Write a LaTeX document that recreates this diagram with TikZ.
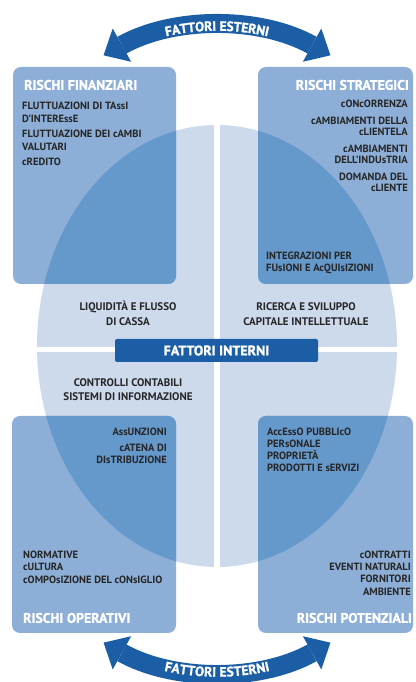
\documentclass[tikz,border=0pt]{standalone}
\usepackage{fontspec}
\setmainfont{PT Sans}[BoldFont={PT Sans Bold}]
\newfontfamily\heavyfont{PT Sans Bold}[FakeBold=1.3]
\usetikzlibrary{arrows.meta,decorations.text}
\definecolor{ellc}{HTML}{CDDAEC}
\definecolor{boxc}{HTML}{8DAFD7}
\definecolor{ovc}{HTML}{6598CB}
\definecolor{darkb}{HTML}{1B5EA5}
\definecolor{txtc}{HTML}{262626}
\tikzset{
  item/.style={inner sep=0pt, text height=7.3pt, text depth=0pt, font=\bfseries\fontsize{10.5}{10.5}\selectfont, text=txtc},
  mid/.style={inner sep=0pt, text height=7.7pt, text depth=0pt, font=\bfseries\fontsize{11}{11}\selectfont, text=txtc},
  ttl/.style={inner sep=0pt, text height=9.6pt, text depth=0pt, font=\heavyfont\fontsize{13.8}{13.8}\selectfont, text=white},
  rbox/.style={rounded corners=8pt},
  band/.style={darkb, line width=19pt, {Triangle[width=38pt,length=21pt,line width=0pt]}-{Triangle[width=38pt,length=21pt,line width=0pt]}},
  bandtext/.style={decorate, decoration={text along path, text={|\heavyfont\fontsize{13.5}{13.5}\selectfont\color{white}|FATTORI ESTERNI}, text align=center, raise=-4.7pt}}
}
\begin{document}
\begin{tikzpicture}[x=1pt,y=1pt]
\useasboundingbox (0,0) rectangle (415,682);
% ellipse
\fill[ellc] (217,336) ellipse [x radius=180, y radius=221];
% boxes
\fill[boxc, rbox] (13,398) rectangle (176,615);
\fill[boxc, rbox] (258,398) rectangle (413,615);
\fill[boxc, rbox] (12,49) rectangle (176,266);
\fill[boxc, rbox] (258,49) rectangle (413,266);
\begin{scope}
  \clip (217,336) ellipse [x radius=180, y radius=221];
  \fill[ovc, rbox] (13,398) rectangle (176,615);
  \fill[ovc, rbox] (258,398) rectangle (413,615);
  \fill[ovc, rbox] (12,49) rectangle (176,266);
  \fill[ovc, rbox] (258,49) rectangle (413,266);
  \fill[white] (213.5,0) rectangle (220,682);
  \fill[white] (0,330) rectangle (415,334.5);
\end{scope}
% central bar
\node (fi) [fill=darkb, minimum width=203pt, minimum height=23pt, rounded corners=2pt, inner sep=0pt, text=white, font=\heavyfont\fontsize{14}{14}\selectfont] at (216.5,331.5) {FATTORI INTERNI};
% arrows
\coordinate (tc) at (217,422);
\coordinate (bc) at (217,244);
\draw[band] ([shift={(119:234)}]tc) arc[start angle=119, end angle=61, radius=234];
\path[bandtext] ([shift={(116:234)}]tc) arc[start angle=116, end angle=64, radius=234];
\draw[band] ([shift={(241:234)}]bc) arc[start angle=241, end angle=299, radius=234];
\path[bandtext] ([shift={(244:234)}]bc) arc[start angle=244, end angle=296, radius=234];
% top-left box
\node (t1) [ttl, anchor=west] at (24,682-85) {RISCHI FINANZIARI};
\node (a1) [item, anchor=west] at (22,682-106) {FLUTTUAZIONI DI TAssI};
\node (a2) [item, anchor=west] at (22,682-119) {D'INTEREssE};
\node (a3) [item, anchor=west] at (22,682-134) {FLUTTUAZIONE DEI cAMBI};
\node (a4) [item, anchor=west] at (22,682-147) {VALUTARI};
\node (a5) [item, anchor=west] at (22,682-162) {cREDITO};
% top-right box
\node (t2) [ttl, anchor=east] at (409,682-85) {RISCHI STRATEGICI};
\node (b1) [item, anchor=east] at (408,682-104) {cONcORRENZA};
\node (b2) [item, anchor=east] at (408,682-121) {cAMBIAMENTI DELLA};
\node (b3) [item, anchor=east] at (408,682-132) {cLIENTELA};
\node (b4) [item, anchor=east] at (408,682-149) {cAMBIAMENTI};
\node (b5) [item, anchor=east] at (408,682-160) {DELL'INDUsTRIA};
\node (b6) [item, anchor=east] at (408,682-177) {DOMANDA DEL};
\node (b7) [item, anchor=east] at (408,682-188) {cLIENTE};
\node (b8) [item, anchor=west] at (266,682-256) {INTEGRAZIONI PER};
\node (b9) [item, anchor=west] at (266,682-268) {FUsIONI E AcQUIsIZIONI};
% middle texts
\node (m1) [mid] at (128,682-307) {LIQUIDITÀ E FLUSSO};
\node (m2) [mid] at (128,682-322) {DI CASSA};
\node (m3) [mid] at (306,682-307) {RICERCA E SVILUPPO};
\node (m4) [mid] at (306,682-322) {CAPITALE INTELLETTUALE};
\node (m5) [mid] at (128,682-383) {CONTROLLI CONTABILI};
\node (m6) [mid] at (128,682-397) {SISTEMI DI INFORMAZIONE};
% bottom-left box
\node (c1) [item, anchor=east] at (167,682-432) {AssUNZIONI};
\node (c2) [item, anchor=east] at (167,682-448) {cATENA DI};
\node (c3) [item, anchor=east] at (167,682-460) {DIsTRIBUZIONE};
\node (c4) [item, anchor=west] at (23,682-555) {NORMATIVE};
\node (c5) [item, anchor=west] at (23,682-567) {cULTURA};
\node (c6) [item, anchor=west] at (23,682-580) {cOMPOsIZIONE DEL cONsIGLIO};
\node (t3) [ttl, anchor=west] at (23,682-618) {RISCHI OPERATIVI};
% bottom-right box
\node (d1) [item, anchor=west] at (267,682-432) {AccEssO PUBBLIcO};
\node (d2) [item, anchor=west] at (267,682-444) {PERsONALE};
\node (d3) [item, anchor=west] at (267,682-456) {PROPRIETÀ};
\node (d4) [item, anchor=west] at (267,682-468) {PRODOTTI E sERVIZI};
\node (d5) [item, anchor=east] at (411,682-555) {cONTRATTI};
\node (d6) [item, anchor=east] at (411,682-567) {EVENTI NATURALI};
\node (d7) [item, anchor=east] at (411,682-579) {FORNITORI};
\node (d8) [item, anchor=east] at (411,682-592) {AMBIENTE};
\node (t4) [ttl, anchor=east] at (412,682-618) {RISCHI POTENZIALI};
\end{tikzpicture}
\end{document}
